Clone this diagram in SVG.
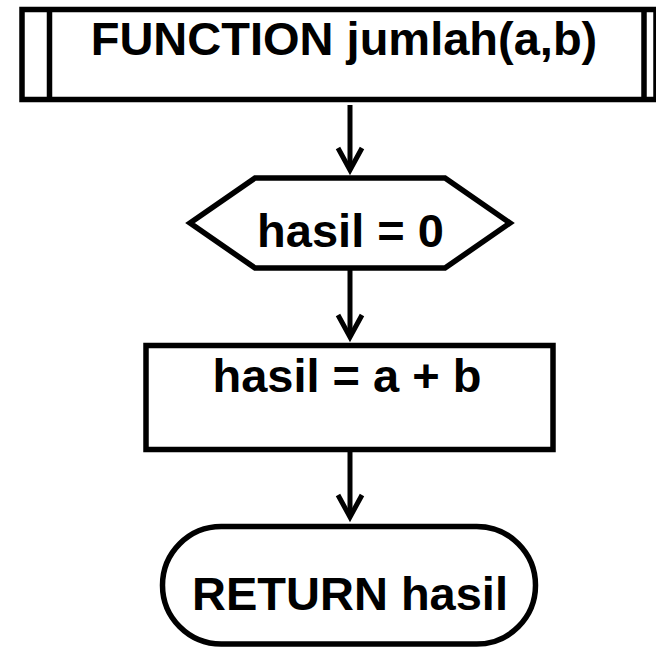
<svg xmlns="http://www.w3.org/2000/svg" width="656" height="647" viewBox="0 0 656 647">
<style>
.shape{fill:#fff;stroke:#000;stroke-width:5.5}
.line{fill:none;stroke:#000;stroke-width:5.5}
.conn{fill:none;stroke:#000;stroke-width:5}
.lbl{font-family:"Liberation Sans",Arial,sans-serif;font-weight:bold;font-size:47px;fill:#000;text-anchor:middle}
</style>
<defs>
<marker id="arr" markerUnits="userSpaceOnUse" markerWidth="40" markerHeight="40" viewBox="-30 -20 40 40" refX="0" refY="0" orient="auto" overflow="visible">
<path d="M-22,-12 L0,0 L-22,12" fill="none" stroke="#000" stroke-width="5"/>
</marker>
</defs>
<rect width="656" height="647" fill="#fff"/>
<g id="connectors">
<path class="conn" d="M350,105 L350,170" marker-end="url(#arr)"/>
<path class="conn" d="M350,270 L350,337" marker-end="url(#arr)"/>
<path class="conn" d="M350,452 L350,517" marker-end="url(#arr)"/>
</g>
<g id="func">
<rect class="shape" x="22" y="9.5" width="634" height="90"/>
<line class="line" x1="49.5" y1="9.5" x2="49.5" y2="99.5"/>
<line class="line" x1="644" y1="9.5" x2="644" y2="99.5"/>
<text class="lbl" x="344" y="55">FUNCTION jumlah(a,b)</text>
</g>
<g id="init">
<polygon class="shape" points="190,223 255,178 445,178 510,223 445,268 255,268"/>
<text class="lbl" x="350.5" y="247">hasil = 0</text>
</g>
<g id="process">
<rect class="shape" x="146" y="345.5" width="407" height="104"/>
<text class="lbl" x="347" y="391.5">hasil = a + b</text>
</g>
<g id="return">
<rect class="shape" x="162.5" y="526.5" width="373" height="117.5" rx="58.75" ry="58.75"/>
<text class="lbl" x="350" y="610">RETURN hasil</text>
</g>
</svg>
